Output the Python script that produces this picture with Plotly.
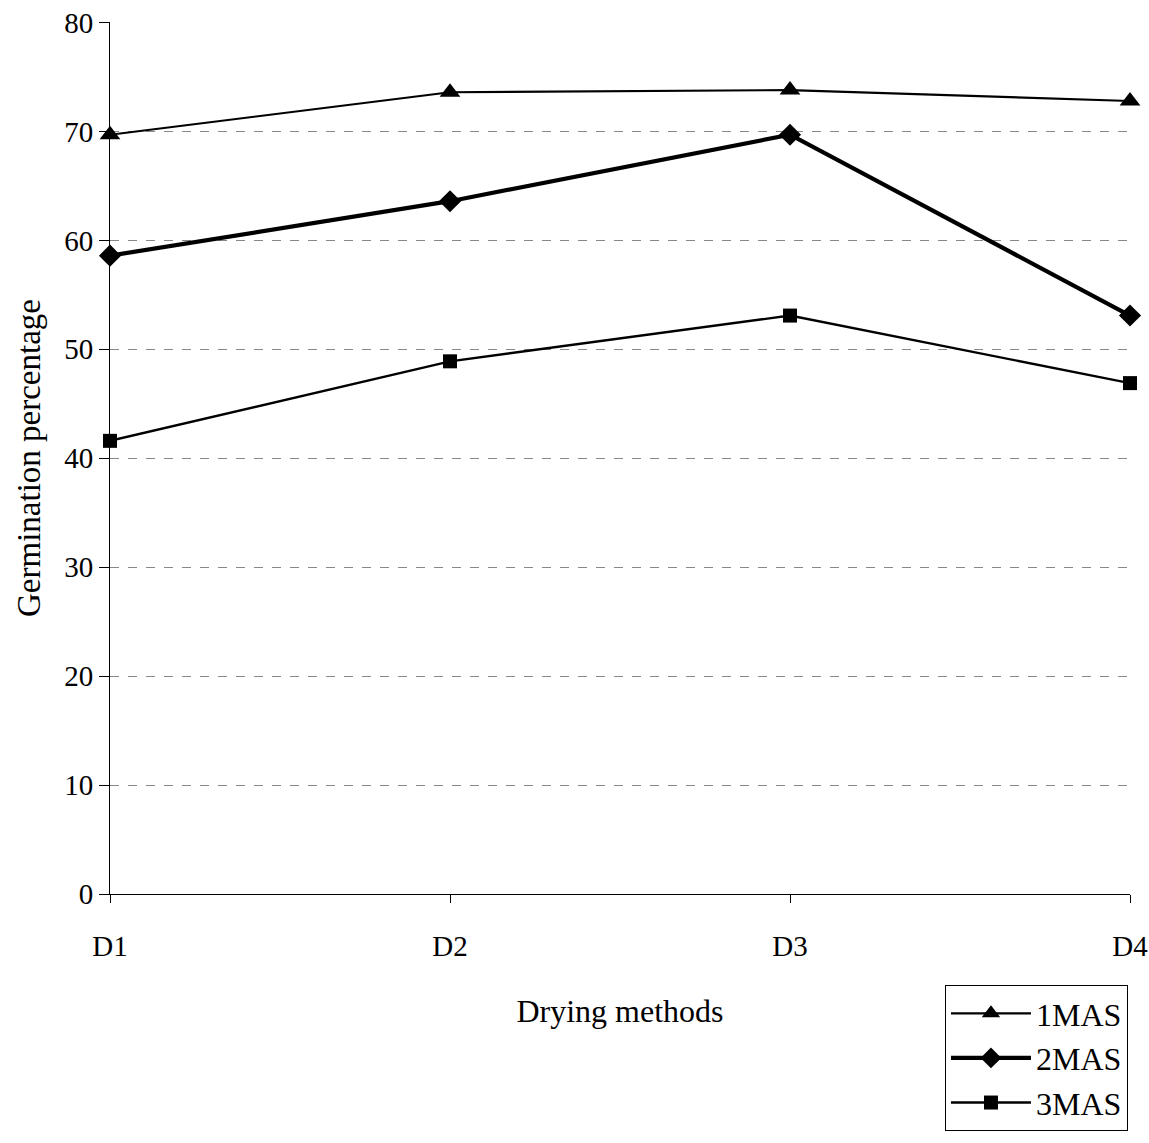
import plotly.graph_objects as go

categories = ["D1", "D2", "D3", "D4"]
mas1 = [69.7, 73.6, 73.8, 72.8]
mas2 = [58.6, 63.6, 69.7, 53.1]
mas3 = [41.6, 48.9, 53.1, 46.9]
y_ticks = [0, 10, 20, 30, 40, 50, 60, 70, 80]

FONT = "Liberation Serif, Times New Roman, serif"

fig = go.Figure()
series = [
    ("1MAS", mas1, "triangle-up", 18, 2.2),
    ("2MAS", mas2, "diamond", 17, 4.2),
    ("3MAS", mas3, "square", 14, 2.4),
]
for name, vals, sym, msize, lw in series:
    fig.add_trace(go.Scatter(
        x=categories, y=vals, name=name, mode="lines+markers",
        line=dict(color="black", width=lw),
        marker=dict(symbol=sym, size=msize, color="black"),
        cliponaxis=False,
    ))

fig.update_layout(
    width=1149, height=1143,
    margin=dict(l=110, r=19, t=22, b=240),
    paper_bgcolor="white", plot_bgcolor="white",
    font=dict(family=FONT, size=29, color="black"),
    showlegend=True,
    legend=dict(
        x=0.8186, y=-0.1044, xanchor="left", yanchor="top",
        bordercolor="black", borderwidth=1,
        font=dict(family=FONT, size=32, color="black"),
        itemwidth=80,
        bgcolor="white",
    ),
    xaxis=dict(
        type="category", range=[0, 3], automargin=False,
        showline=True, linecolor="black", linewidth=1,
        ticks="outside", ticklen=8, tickcolor="black",
        showgrid=False, ticklabelstandoff=18,
        tickfont=dict(family=FONT, size=29),
        title=dict(text="Drying methods", font=dict(family=FONT, size=32), standoff=38),
    ),
    yaxis=dict(
        range=[0, 80.05], tickvals=y_ticks, automargin=False,
        showline=True, linecolor="black", linewidth=1,
        ticks="outside", ticklen=10, tickcolor="black",
        showgrid=True, gridcolor="#888888", griddash="dash", gridwidth=1,
        zeroline=False,
        tickfont=dict(family=FONT, size=29),
        title=dict(text="Germination percentage", font=dict(family=FONT, size=33), standoff=13),
    ),
)

fig.write_html("out.html")
